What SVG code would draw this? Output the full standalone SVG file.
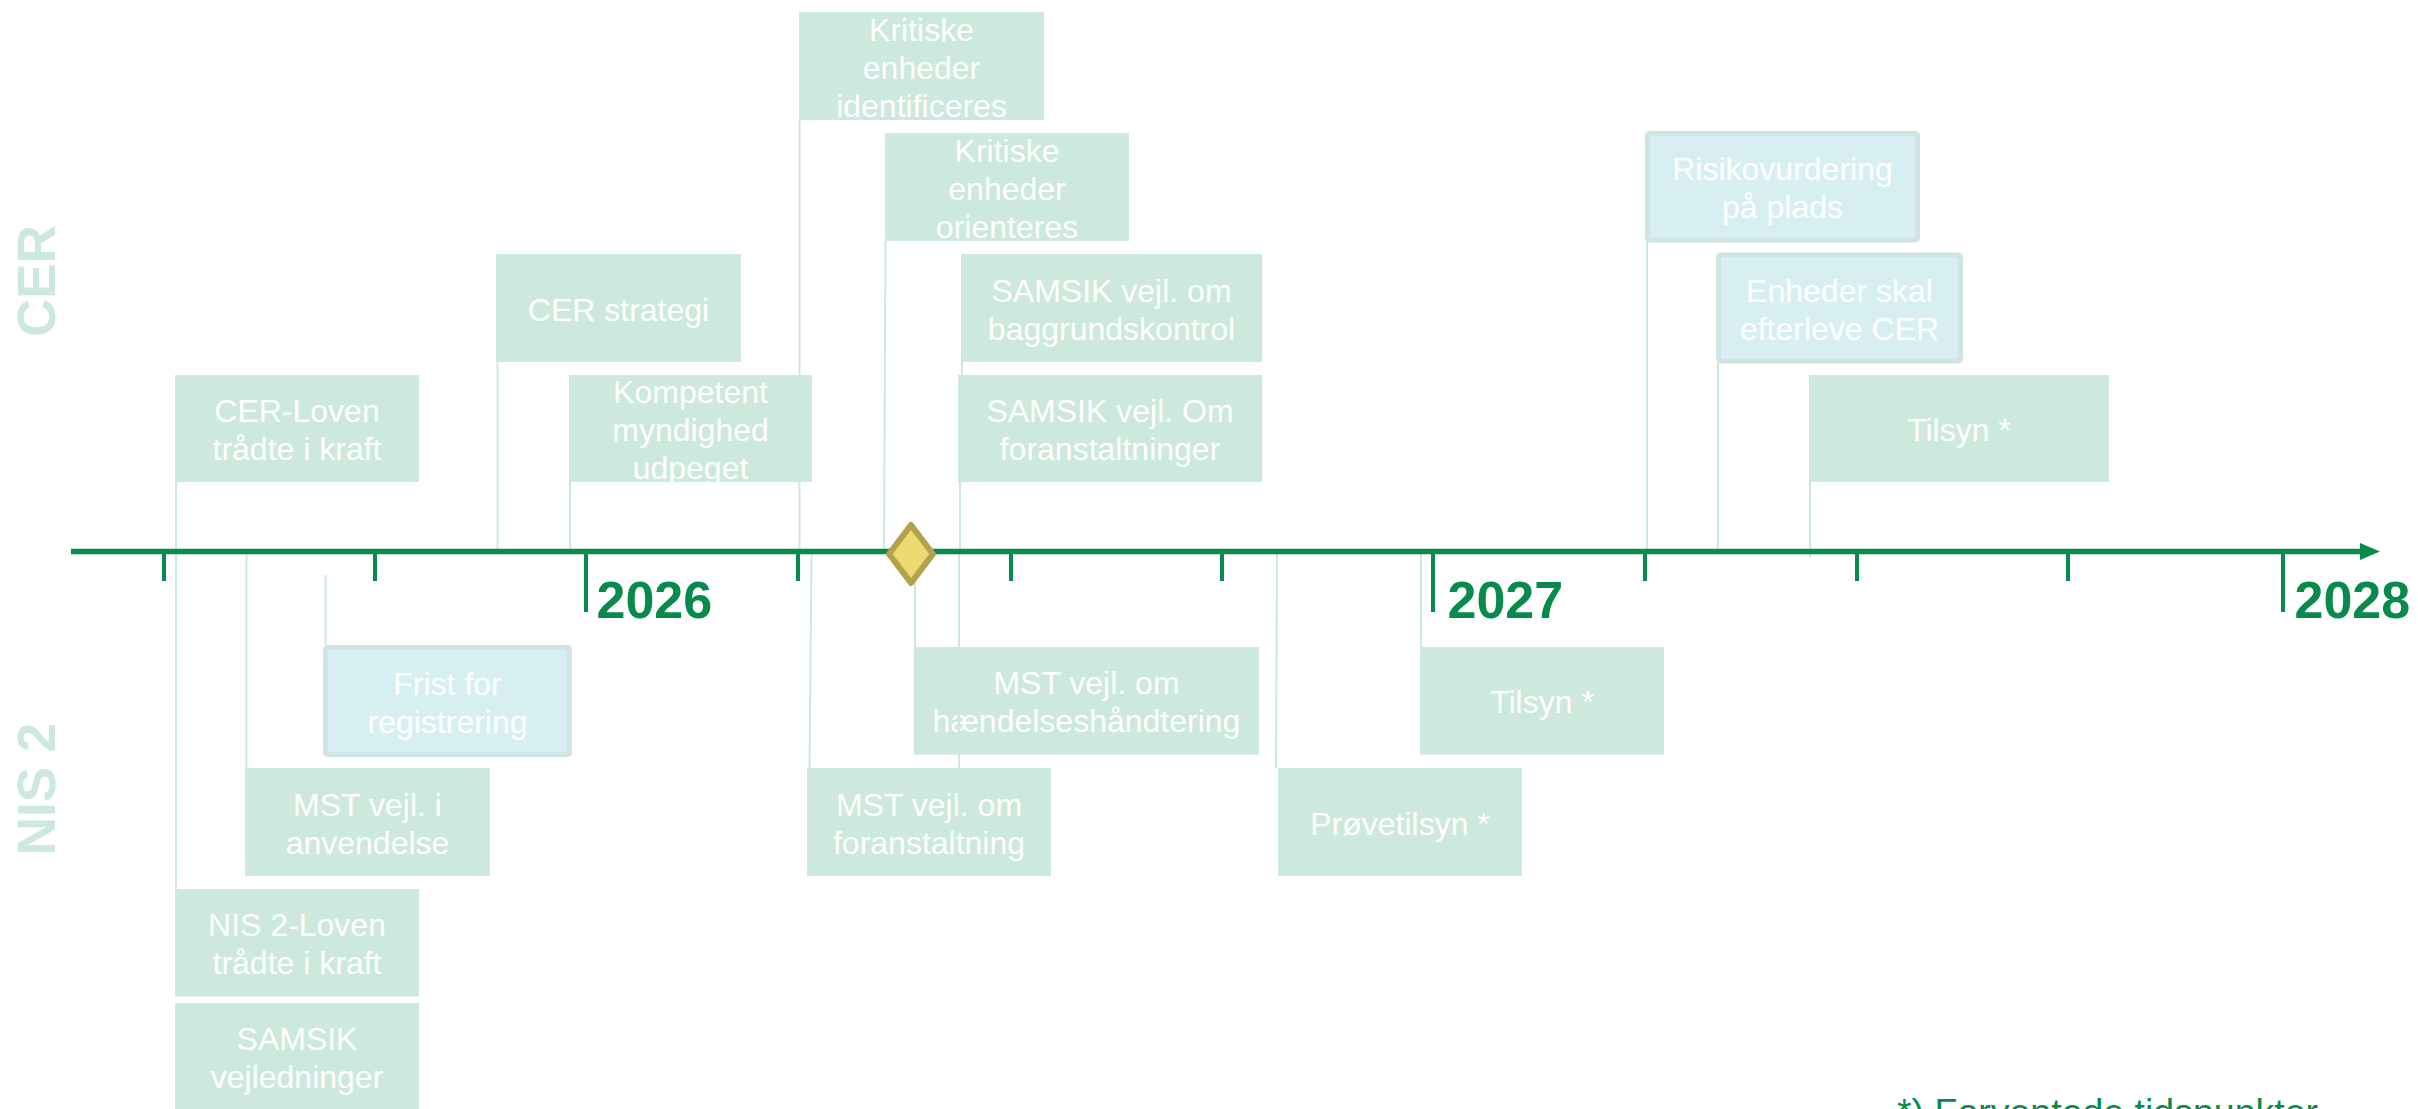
<svg xmlns="http://www.w3.org/2000/svg" width="2418" height="1109" viewBox="0 0 2418 1109">
<defs>
<style>
.box{fill:#cde8dc}
.bbox{fill:#d7eff2;stroke:#cfe4e5;stroke-width:5}
.t{font-family:"Liberation Sans",Arial,sans-serif;font-size:32px;fill:#ffffff;text-anchor:middle}
.con{stroke:#cfe8de;stroke-width:2;fill:none}
.tick{stroke:#078a4c;stroke-width:4}
.yr{font-family:"Liberation Sans",Arial,sans-serif;font-size:52px;font-weight:bold;fill:#078a4c}
.lane{font-family:"Liberation Sans",Arial,sans-serif;font-size:53px;font-weight:bold;fill:#cde8dc;text-anchor:middle}
</style>
<clipPath id="clipK"><rect x="569" y="375" width="243" height="107"/></clipPath>
</defs>
<rect width="2418" height="1109" fill="#ffffff"/>

<g id="lanes">
<text class="lane" transform="translate(55,281) rotate(-90)">CER</text>
<text class="lane" transform="translate(55,789) rotate(-90)">NIS 2</text>
</g>

<g id="n-cer-loven"><rect class="box" x="175" y="375" width="244" height="107"/><text class="t" x="297" y="422">CER-Loven</text><text class="t" x="297" y="460">trådte i kraft</text></g>
<g id="n-cer-strategi"><rect class="box" x="496" y="254" width="245" height="108"/><text class="t" x="618.5" y="320.5">CER strategi</text></g>
<g id="n-kompetent"><rect class="box" x="569" y="375" width="243" height="107"/><g clip-path="url(#clipK)"><text class="t" x="690.5" y="403">Kompetent</text><text class="t" x="690.5" y="441">myndighed</text><text class="t" x="690.5" y="479">udpeget</text></g></g>
<g id="n-kritiske-id"><rect class="box" x="799" y="12" width="245" height="108"/><text class="t" x="921.5" y="40.5">Kritiske</text><text class="t" x="921.5" y="78.5">enheder</text><text class="t" x="921.5" y="116.5">identificeres</text></g>
<g id="n-kritiske-or"><rect class="box" x="885" y="133" width="244" height="108"/><text class="t" x="1007" y="161.5">Kritiske</text><text class="t" x="1007" y="199.5">enheder</text><text class="t" x="1007" y="237.5">orienteres</text></g>
<g id="n-samsik-bagg"><rect class="box" x="961" y="254" width="301" height="108"/><text class="t" x="1111.5" y="301.5">SAMSIK vejl. om</text><text class="t" x="1111.5" y="339.5">baggrundskontrol</text></g>
<g id="n-samsik-foran"><rect class="box" x="958" y="375" width="304" height="107"/><text class="t" x="1110" y="422">SAMSIK vejl. Om</text><text class="t" x="1110" y="460">foranstaltninger</text></g>
<g id="n-risiko"><rect class="bbox" x="1647.5" y="133.5" width="270" height="106.5" rx="2"/><text class="t" x="1782.5" y="180">Risikovurdering</text><text class="t" x="1782.5" y="218">på plads</text></g>
<g id="n-enheder"><rect class="bbox" x="1718.5" y="255" width="242" height="106" rx="2"/><text class="t" x="1839.5" y="301.5">Enheder skal</text><text class="t" x="1839.5" y="339.5">efterleve CER</text></g>
<g id="n-tilsyn-cer"><rect class="box" x="1809" y="375" width="300" height="107"/><text class="t" x="1959" y="441">Tilsyn *</text></g>

<g id="n-frist"><rect class="bbox" x="325.5" y="647.5" width="244" height="107" rx="2"/><text class="t" x="447.5" y="694.5">Frist for</text><text class="t" x="447.5" y="732.5">registrering</text></g>
<g id="n-mst-anv"><rect class="box" x="245" y="768" width="245" height="108"/><text class="t" x="367.5" y="815.5">MST vejl. i</text><text class="t" x="367.5" y="853.5">anvendelse</text></g>
<g id="n-nis2-loven"><rect class="box" x="175" y="889" width="244" height="107.5"/><text class="t" x="297" y="936">NIS 2-Loven</text><text class="t" x="297" y="974">trådte i kraft</text></g>
<g id="n-samsik-vejl"><rect class="box" x="175" y="1003" width="244" height="107"/><text class="t" x="297" y="1050">SAMSIK</text><text class="t" x="297" y="1088">vejledninger</text></g>
<g id="n-mst-haend"><rect class="box" x="914" y="647" width="345" height="107.5"/><text class="t" x="1086.5" y="694">MST vejl. om</text><text class="t" x="1086.5" y="732">hændelseshåndtering</text></g>
<g id="n-mst-foran"><rect class="box" x="807" y="768" width="244" height="108"/><text class="t" x="929" y="815.5">MST vejl. om</text><text class="t" x="929" y="853.5">foranstaltning</text></g>
<g id="n-proeve"><rect class="box" x="1278" y="768" width="244" height="108"/><text class="t" x="1400" y="834.5">Prøvetilsyn *</text></g>
<g id="n-tilsyn-nis"><rect class="box" x="1420" y="647" width="244" height="107.5"/><text class="t" x="1542" y="713">Tilsyn *</text></g>

<g id="connectors">
<line class="con" x1="176" y1="482" x2="176" y2="549"/>
<line class="con" x1="497.5" y1="362" x2="497.5" y2="549"/>
<line class="con" x1="570" y1="482" x2="570" y2="549"/>
<line class="con" x1="799.5" y1="120" x2="799.5" y2="375"/>
<line class="con" x1="799.5" y1="482" x2="799.5" y2="549"/>
<line class="con" x1="885.5" y1="241" x2="884" y2="549"/>
<line class="con" x1="962" y1="362" x2="962" y2="375"/>
<line class="con" x1="960" y1="482" x2="960" y2="549"/>
<line class="con" x1="1647" y1="242" x2="1647" y2="549"/>
<line class="con" x1="1718" y1="363" x2="1718" y2="549"/>
<line class="con" x1="1810" y1="482" x2="1810" y2="558"/>
<line class="con" x1="325.5" y1="575" x2="325.5" y2="645"/>
<line class="con" x1="246.5" y1="554" x2="246.5" y2="768"/>
<line class="con" x1="176" y1="554" x2="176" y2="889"/>
<line class="con" x1="915" y1="554" x2="915" y2="647"/>
<line class="con" x1="811.5" y1="554" x2="809.5" y2="768"/>
<line class="con" x1="959" y1="554" x2="959" y2="768"/>
<line class="con" x1="1277" y1="554" x2="1276" y2="768"/>
<line class="con" x1="1421" y1="554" x2="1421" y2="647"/>
</g>

<g id="axis">
<line x1="71" y1="551.5" x2="2364" y2="551.5" stroke="#078a4c" stroke-width="5.5"/>
<polygon points="2360,543 2380,551.5 2360,560" fill="#078a4c"/>
<line class="tick" x1="164" y1="551" x2="164" y2="581"/>
<line class="tick" x1="375" y1="551" x2="375" y2="581"/>
<line class="tick" x1="586" y1="551" x2="586" y2="612"/>
<line class="tick" x1="798" y1="551" x2="798" y2="581"/>
<line class="tick" x1="1011" y1="551" x2="1011" y2="581"/>
<line class="tick" x1="1222" y1="551" x2="1222" y2="581"/>
<line class="tick" x1="1433" y1="551" x2="1433" y2="612"/>
<line class="tick" x1="1645" y1="551" x2="1645" y2="581"/>
<line class="tick" x1="1857" y1="551" x2="1857" y2="581"/>
<line class="tick" x1="2068" y1="551" x2="2068" y2="581"/>
<line class="tick" x1="2283" y1="551" x2="2283" y2="612"/>
<text class="yr" x="596.5" y="618">2026</text>
<text class="yr" x="1447.5" y="618">2027</text>
<text class="yr" x="2294.5" y="618">2028</text>
</g>

<g id="milestone">
<polygon points="911,525 933,554 911,583 889,554" fill="#eed96f" stroke="#b2a24b" stroke-width="6" stroke-linejoin="round"/>
</g>

<g id="footnote">
<text x="1897" y="1125" font-family="Liberation Sans, Arial, sans-serif" font-size="37.5" fill="#078a4c">*) Forventede tidspunkter</text>
</g>
</svg>
